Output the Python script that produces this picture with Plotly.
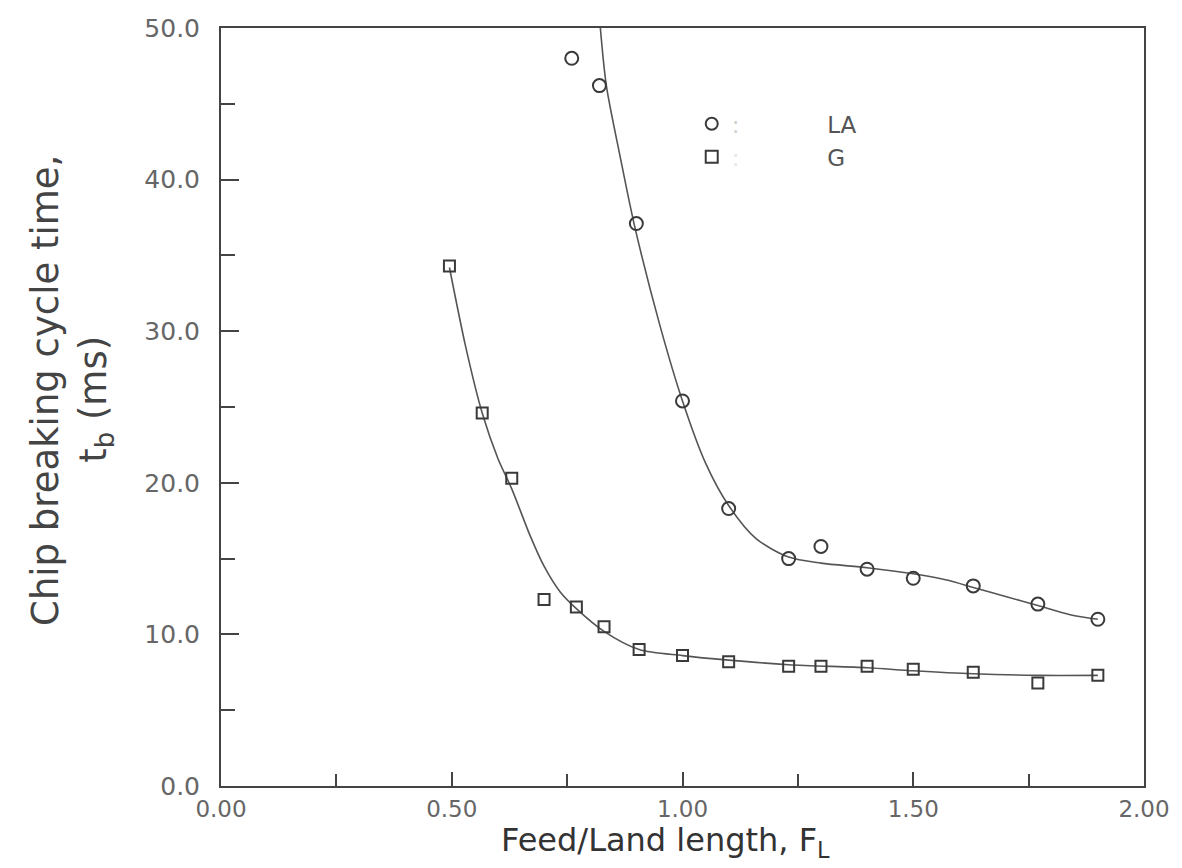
import plotly.graph_objects as go

# LA data (circles)
la_x = [0.76, 0.82, 0.90, 1.00, 1.10, 1.23, 1.30, 1.40, 1.50, 1.63, 1.77, 1.90]
la_y = [48.0, 46.2, 37.1, 25.4, 18.3, 15.0, 15.8, 14.3, 13.7, 13.2, 12.0, 11.0]
# G data (squares)
g_x = [0.495, 0.566, 0.63, 0.70, 0.77, 0.83, 0.906, 1.00, 1.10, 1.23, 1.30, 1.40, 1.50, 1.63, 1.77, 1.90]
g_y = [34.3, 24.6, 20.3, 12.3, 11.8, 10.5, 9.0, 8.6, 8.2, 7.9, 7.9, 7.9, 7.7, 7.5, 6.8, 7.3]

# fitted curves
la_fit_x = [0.822, 0.835, 0.865, 0.895, 0.95, 1.00, 1.05, 1.10, 1.16, 1.23, 1.30, 1.40, 1.50, 1.57, 1.63, 1.70, 1.77, 1.84, 1.90]
la_fit_y = [50.0, 46.2, 41.5, 37.1, 30.5, 25.4, 21.3, 18.5, 16.3, 15.1, 14.7, 14.4, 14.0, 13.6, 13.1, 12.5, 11.9, 11.3, 11.0]
g_fit_x = [0.495, 0.53, 0.566, 0.60, 0.63, 0.67, 0.70, 0.735, 0.77, 0.83, 0.906, 1.00, 1.10, 1.23, 1.40, 1.50, 1.63, 1.77, 1.90]
g_fit_y = [34.2, 29.0, 24.6, 21.6, 19.6, 16.5, 14.5, 12.8, 11.7, 10.2, 9.0, 8.6, 8.3, 8.0, 7.8, 7.6, 7.4, 7.3, 7.3]

x_ticks = [0.0, 0.5, 1.0, 1.5, 2.0]
x_tick_text = ["0.00", "0.50", "1.00", "1.50", "2.00"]
y_ticks = [0, 10, 20, 30, 40, 50]
y_tick_text = ["0.0", "10.0", "20.0", "30.0", "40.0", "50.0"]

ink = "#3a3a3a"
font = "DejaVu Sans"

fig = go.Figure()
fig.add_trace(go.Scatter(x=la_fit_x, y=la_fit_y, mode="lines",
                         line=dict(color="#555", width=1.6, shape="spline", smoothing=0.8),
                         showlegend=False, hoverinfo="skip"))
fig.add_trace(go.Scatter(x=g_fit_x, y=g_fit_y, mode="lines",
                         line=dict(color="#555", width=1.6, shape="spline", smoothing=0.8),
                         showlegend=False, hoverinfo="skip"))
fig.add_trace(go.Scatter(x=la_x, y=la_y, mode="markers",
                         name="<span style='color:#cfcfcf'>:</span>            LA",
                         marker=dict(symbol="circle-open", size=13, color=ink, line=dict(width=2))))
fig.add_trace(go.Scatter(x=g_x, y=g_y, mode="markers",
                         name="<span style='color:#e6e6e6'>:</span>            G",
                         marker=dict(symbol="square-open", size=11, color=ink, line=dict(width=2))))

fig.update_layout(
    width=1182, height=868,
    margin=dict(l=221, r=34, t=28, b=82),
    paper_bgcolor="white", plot_bgcolor="white",
    font=dict(family=font, color="#555"),
    legend=dict(x=0.51, y=0.902, xanchor="left", yanchor="top",
                bgcolor="rgba(0,0,0,0)", font=dict(size=23, color="#555"),
                itemsizing="constant", tracegroupgap=0),
    xaxis=dict(range=[0, 2], tickvals=x_ticks, ticktext=x_tick_text,
               ticks="inside", ticklen=14, tickwidth=1.5, tickcolor="#444",
               minor=dict(dtick=0.25, tick0=0, ticks="inside", ticklen=12, tickcolor="#444", tickwidth=1.5),
               showline=True, linecolor="#444", linewidth=2, mirror=True,
               showgrid=False, zeroline=False, ticklabelstandoff=1,
               tickfont=dict(size=23, color="#666")),
    yaxis=dict(range=[0, 50], tickvals=y_ticks, ticktext=y_tick_text,
               ticks="inside", ticklen=18, tickwidth=1.5, tickcolor="#444",
               minor=dict(dtick=5, tick0=0, ticks="inside", ticklen=14, tickcolor="#444", tickwidth=1.5),
               showline=True, linecolor="#444", linewidth=2, mirror=True,
               showgrid=False, zeroline=False, ticklabelstandoff=14,
               tickfont=dict(size=25, color="#666")),
)

fig.add_annotation(text="Feed/Land length, F<sub>L</sub>",
                   xref="paper", yref="paper", x=0.482, y=-0.043,
                   xanchor="center", yanchor="top", showarrow=False,
                   font=dict(size=32, color="#333", family=font))
fig.add_annotation(text="Chip breaking cycle time,", textangle=-90,
                   xref="paper", yref="paper", x=-0.19, y=0.522,
                   xanchor="center", yanchor="middle", showarrow=False,
                   font=dict(size=37, color="#444", family=font))
fig.add_annotation(text="t<sub>b</sub> (ms)", textangle=-90,
                   xref="paper", yref="paper", x=-0.135, y=0.51,
                   xanchor="center", yanchor="middle", showarrow=False,
                   font=dict(size=37, color="#444", family=font))

fig.write_html("out.html")
